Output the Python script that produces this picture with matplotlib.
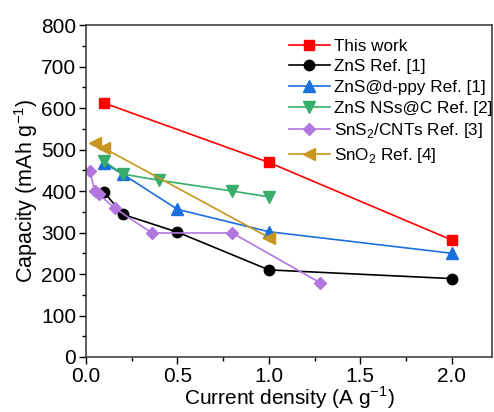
import matplotlib
matplotlib.use("Agg")
import matplotlib.pyplot as plt
from matplotlib.ticker import MultipleLocator, FormatStrFormatter

plt.rcParams['font.family'] = ['Liberation Sans', 'DejaVu Sans']
plt.rcParams['mathtext.fontset'] = 'custom'
plt.rcParams['mathtext.rm'] = 'Liberation Sans'

# data
this_x = [0.1, 1.0, 2.0]
this_y = [612, 469, 282]

zns_x = [0.1, 0.2, 0.5, 1.0, 2.0]
zns_y = [397, 344, 301, 210, 189]

zns_ppy_x = [0.1, 0.2, 0.5, 1.0, 2.0]
zns_ppy_y = [467, 441, 356, 302, 250]

zns_c_x = [0.1, 0.2, 0.4, 0.8, 1.0]
zns_c_y = [472, 441, 426, 400, 386]

sns2_x = [0.02, 0.05, 0.07, 0.16, 0.36, 0.8, 1.28]
sns2_y = [449, 399, 392, 358, 299, 299, 179]

sno2_x = [0.05, 0.1, 1.0]
sno2_y = [516, 503, 288]

fig = plt.figure(figsize=(4.94, 4.12), dpi=100)
ax = fig.add_axes([0.174, 0.1335, 0.822, 0.8055])

ax.plot(this_x, this_y, color='#ff0000', marker='s', ms=7, lw=1.2, label='This work')
ax.plot(zns_x, zns_y, color='black', marker='o', ms=7.5, lw=1.2, label='ZnS Ref. [1]')
ax.plot(zns_ppy_x, zns_ppy_y, color='#1a6fdf', marker='^', ms=8, lw=1.2, label='ZnS@d-ppy Ref. [1]')
ax.plot(zns_c_x, zns_c_y, color='#37ad6b', marker='v', ms=8, lw=1.2, label='ZnS NSs@C Ref. [2]')
ax.plot(sns2_x, sns2_y, color='#b177de', marker='D', ms=6.5, lw=1.2, label='SnS$_2$/CNTs Ref. [3]')
ax.plot(sno2_x, sno2_y, color='#c8961e', marker='<', ms=8, lw=1.2, label='SnO$_2$ Ref. [4]')

ax.set_xlim(0, 2.22)
ax.set_ylim(0, 800)
ax.xaxis.set_major_locator(MultipleLocator(0.5))
ax.xaxis.set_minor_locator(MultipleLocator(0.25))
ax.yaxis.set_major_locator(MultipleLocator(100))
ax.yaxis.set_minor_locator(MultipleLocator(50))
ax.xaxis.set_major_formatter(FormatStrFormatter('%.1f'))
ax.tick_params(which='major', direction='out', length=5, width=1, labelsize=15, pad=2,
               top=False, right=False)
ax.tick_params(which='minor', direction='out', length=3, width=1, top=False, right=False)
for s in ax.spines.values():
    s.set_linewidth(1.1)
    s.set_color('#333333')

ax.set_xlabel('Current density (A g$^{-1}$)', fontsize=15, labelpad=-1)
ax.set_ylabel('Capacity (mAh g$^{-1}$)', fontsize=15.5, labelpad=1)

ax.legend(loc='upper left', bbox_to_anchor=(0.482, 0.98), frameon=False, fontsize=12.3,
          handlelength=2.4, handletextpad=0.25, labelspacing=0.33, borderaxespad=0)

fig.savefig('out.png', dpi=100)
